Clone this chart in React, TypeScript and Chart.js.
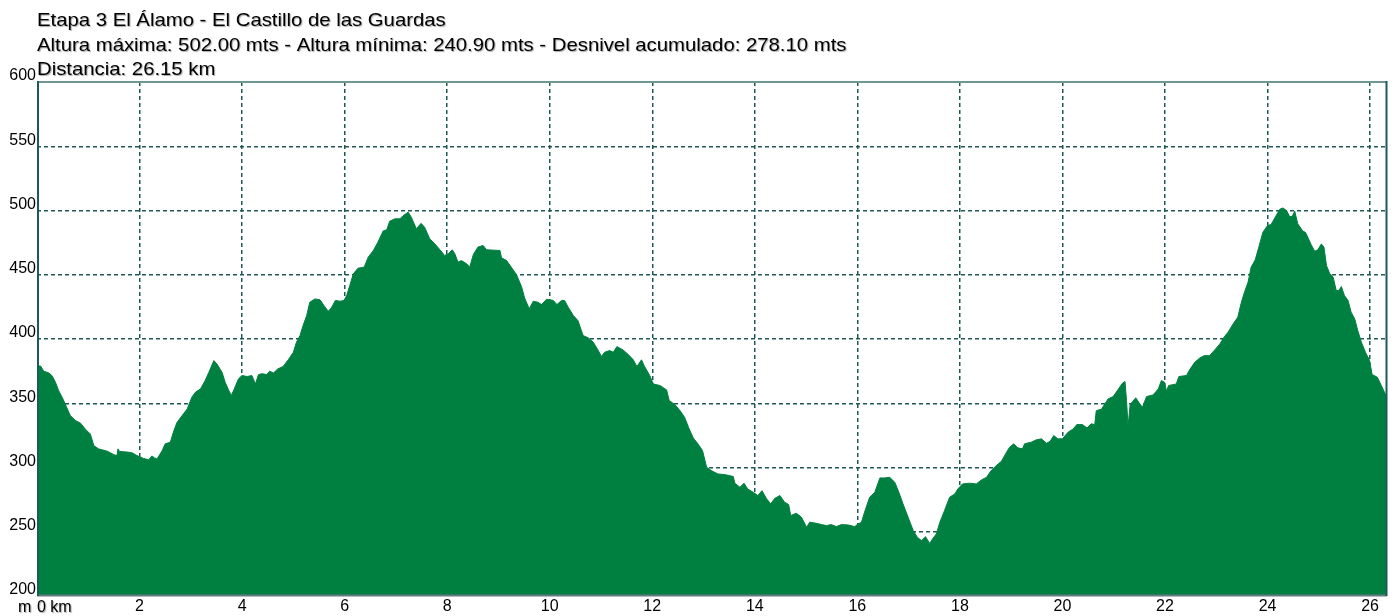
import { useEffect, useRef } from 'react';
import { Chart, registerables } from 'chart.js';

Chart.register(...registerables);

const titleLines = [
  'Etapa 3 El Álamo - El Castillo de las Guardas',
  'Altura máxima: 502.00 mts - Altura mínima: 240.90 mts - Desnivel acumulado: 278.10 mts',
  'Distancia: 26.15 km',
];

const yUnitLabel = 'm';
const xFirstLabel = '0 km';

const xTickValues = [0, 2, 4, 6, 8, 10, 12, 14, 16, 18, 20, 22, 24, 26];
const yTickValues = [200, 250, 300, 350, 400, 450, 500, 550, 600];

const X_MAX = 26.33;
const Y_MIN = 200;
const Y_MAX = 600;

const distanceKm = [
  0.0, 0.07, 0.13, 0.23, 0.29, 0.36, 0.42, 0.49, 0.55, 0.62, 0.65, 0.75, 0.85, 0.94, 1.04, 1.11, 1.2, 1.37, 1.5, 1.56,
  1.58, 1.61, 1.76, 1.85, 1.95, 2.08, 2.18, 2.24, 2.29, 2.34, 2.44, 2.5, 2.6, 2.67, 2.73, 2.83, 2.93, 3.02, 3.09, 3.19,
  3.28, 3.35, 3.45, 3.51, 3.61, 3.67, 3.74, 3.79, 3.84, 3.93, 4.0, 4.1, 4.19, 4.26, 4.32, 4.39,
  4.48, 4.54, 4.61, 4.7, 4.8, 4.9, 5.0, 5.06, 5.13, 5.19, 5.26, 5.32, 5.42, 5.52, 5.61, 5.68, 5.74, 5.82, 5.91, 5.99,
  6.04, 6.1, 6.17, 6.26, 6.38, 6.46, 6.56, 6.65, 6.75, 6.82, 6.88, 6.98, 7.08, 7.14, 7.24, 7.3, 7.4, 7.49, 7.56, 7.66,
  7.76, 7.86, 7.95, 8.02, 8.1, 8.15, 8.21, 8.28, 8.38, 8.44, 8.51, 8.6, 8.7, 8.77,
  9.03, 9.06, 9.16, 9.25, 9.35, 9.45, 9.51, 9.6, 9.68, 9.77, 9.84, 9.94, 10.07, 10.14, 10.23, 10.29, 10.36, 10.46,
  10.55, 10.65, 10.75, 10.85, 10.94, 11.01, 11.07, 11.17, 11.24, 11.31, 11.43, 11.53, 11.63, 11.7, 11.79, 11.85,
  11.95, 12.02, 12.15, 12.28, 12.33, 12.44, 12.54, 12.63, 12.72, 12.8, 12.89, 12.98, 13.06, 13.15,
  13.28, 13.41, 13.58, 13.61, 13.71, 13.79, 13.86, 13.97, 14.06, 14.14, 14.23, 14.31, 14.39, 14.49, 14.58, 14.66,
  14.7, 14.81, 14.91, 15.01, 15.07, 15.2, 15.3, 15.4, 15.49, 15.59, 15.69, 15.82, 15.95, 16.01, 16.08, 16.14, 16.24,
  16.34, 16.44, 16.53, 16.63, 16.73, 16.81, 16.89, 16.99, 17.09, 17.17, 17.25, 17.33, 17.41, 17.48, 17.54,
  17.61, 17.7, 17.8, 17.9, 17.96, 18.05, 18.19, 18.32, 18.42, 18.52, 18.61, 18.71, 18.81, 18.91, 18.97, 19.05, 19.13,
  19.22, 19.26, 19.39, 19.49, 19.59, 19.69, 19.76, 19.83, 19.91, 20.0, 20.11, 20.21, 20.28, 20.39, 20.48, 20.56,
  20.63, 20.66, 20.76, 20.89, 20.99, 21.08, 21.17, 21.22, 21.25, 21.28, 21.32, 21.43, 21.51, 21.56, 21.64, 21.77,
  21.87, 21.93,
  21.99, 22.03, 22.07, 22.22, 22.27, 22.42, 22.48, 22.58, 22.68, 22.77, 22.87, 22.97, 23.07, 23.16, 23.23, 23.33,
  23.42, 23.49, 23.55, 23.62, 23.68, 23.76, 23.83, 23.91, 24.0, 24.07, 24.15, 24.24, 24.3, 24.37, 24.43, 24.48, 24.53,
  24.59, 24.69, 24.74, 24.79, 24.85, 24.92, 24.98, 25.05, 25.1, 25.15, 25.21, 25.28, 25.34, 25.39, 25.44, 25.5, 25.57,
  25.63, 25.7, 25.76, 25.83, 25.91, 25.99, 26.04, 26.14, 26.22, 26.33,
];

const elevationM = [
  379, 379, 375, 373.6, 371.6, 366.4, 360, 354.7, 349.5, 343, 340.4, 336.5, 334.5, 330, 326, 317, 314.5, 312.7, 310, 309.3,
  314.5, 312.5, 312, 311.5, 309.3, 307, 306, 309, 307.5, 306.7, 313, 318.4, 319.7, 328.8, 335, 340.4, 345.6, 354.7, 358.6, 361.2,
  367.7, 374, 383.2, 380.6, 374, 366.4, 360, 356, 360.5, 369, 371.6, 370.8, 371.6, 365, 372.3, 373,
  372.3, 375, 373.5, 376.8, 378.6, 383.8, 389.7, 397.5, 402.7, 410.5, 418.3, 428.6, 431.2, 430.5, 425.3, 421.6, 424.2, 430, 429.4, 430,
  433.8, 441.6, 450.7, 455.1, 455.9, 463.7, 468.9, 475.4, 484, 485, 491.7, 493.5, 493.5, 496, 498.7, 494.8, 485.7, 490, 487, 478,
  474, 469.4, 465, 466.3, 469.4, 466.3, 459.8, 461, 458.5, 455.9, 465.7, 471.5, 472.8, 469.4,
  468.9, 463.2, 461, 455.9, 450.2, 440.8, 432, 423.5, 429.4, 428.6, 426.8, 431, 430, 426.8, 430, 430, 424.8, 418.3,
  414.4, 402.7, 400.9, 397.5, 391.5, 386.4, 389.7, 391, 389.7, 394.1, 391.5, 388, 383.8, 378.6, 383.8, 378.6,
  371.6, 365, 363.8, 360.4, 352.1, 349, 344.3, 339.1, 330, 323, 318.4, 313.2, 300.2, 297.6,
  295, 294.5, 293, 287.8, 284.6, 287.8, 283.3, 280.7, 278.2, 282, 275.6, 271.7, 276, 278.2, 273, 271.2,
  262.6, 264.4, 261.3, 253.5, 257.4, 256.6, 255.6, 254.8, 255.6, 254, 255.6, 255.3, 254, 256, 257.4, 265.2, 276.9,
  280.7, 291.9, 291.9, 292.4, 288.5, 280.7, 271.7, 261.3, 250.9, 245.7, 243.1, 246.2, 240.9, 245.2, 248.3,
  257.4, 266.5, 276.9, 279.4, 283.3, 287.2, 287.8, 287.2, 290.3, 292.4, 297.6, 301.5, 304.9, 311.9, 315.8, 318.4, 315.3,
  314.5, 318.4, 319.7, 321.5, 322.3, 318.9, 320.4, 324.9, 322.3, 322.3, 327.5, 330, 333.4, 333.4, 330.8, 334,
  333.4, 344.3, 345.3, 353.4, 355.2, 360.4, 365.6, 366.9, 352.1, 331.9, 349, 354.2, 349.5, 346.9, 355.2, 356.5,
  361.2, 367.7,
  366.4, 359.4, 363.8, 365, 370.8, 371.6, 376, 381.9, 385.3, 387.1, 387, 391.5, 396.2, 401.9, 405.3, 411.8,
  417, 428.6, 436.4, 444.2, 455.9, 461.6, 471.5, 483.1, 488.3, 489.1, 494.8, 501, 502, 500, 495.3, 495.3, 499.5,
  489.6, 483.9, 483, 478.7, 473.5, 468.3, 469.4, 474, 471.5, 457.2, 451.2, 448.1, 437.7, 437.7, 440.8, 433.8, 430,
  420.9, 415.7, 406.6, 397.5, 389.7, 383.2, 372.3, 370.3, 363.8, 354.2,
];

const FILL_GREEN = '#008040';
const GRID_COLOR = '#1f5855';
const GRID_DASH = [4, 3];
const TEXT_FONT = '"Liberation Sans", Arial, sans-serif';

const framePlugin = {
  id: 'profileFrame',
  afterDraw(chart: any) {
    const { ctx, chartArea } = chart;
    const { left, right, top, bottom } = chartArea;
    ctx.save();
    ctx.setLineDash([]);
    // top border
    ctx.strokeStyle = '#6f9692';
    ctx.lineWidth = 2;
    ctx.beginPath();
    ctx.moveTo(left, top);
    ctx.lineTo(right, top);
    ctx.stroke();
    // bottom border
    ctx.strokeStyle = '#667a84';
    ctx.beginPath();
    ctx.moveTo(left, bottom - 0.5);
    ctx.lineTo(right, bottom - 0.5);
    ctx.stroke();
    // left / right borders
    ctx.strokeStyle = '#1d5a5a';
    ctx.beginPath();
    ctx.moveTo(left + 1, top - 1);
    ctx.lineTo(left + 1, bottom);
    ctx.moveTo(right - 0.5, top - 1);
    ctx.lineTo(right - 0.5, bottom);
    ctx.stroke();

    // title lines
    ctx.fillStyle = '#000';
    ctx.textAlign = 'left';
    ctx.textBaseline = 'alphabetic';
    ctx.font = `18.5px ${TEXT_FONT}`;
    ctx.shadowColor = 'rgba(0,0,0,0.35)';
    ctx.shadowOffsetX = 1;
    ctx.shadowOffsetY = 1;
    ctx.shadowBlur = 1;
    const baselines = [26, 50.5, 75];
    titleLines.forEach((line, i) => {
      ctx.save();
      ctx.translate(left, baselines[i]);
      ctx.scale(1.098, 1);
      ctx.fillText(line, 0, 0);
      ctx.restore();
    });

    // unit labels at the bottom-left
    ctx.font = `16px ${TEXT_FONT}`;
    ctx.fillText(yUnitLabel, 18, 612);
    ctx.fillText(xFirstLabel, left, 612);
    ctx.restore();
  },
};

export default function App() {
  const canvasRef = useRef<HTMLCanvasElement | null>(null);

  useEffect(() => {
    const canvas = canvasRef.current;
    if (!canvas) return;
    const points = distanceKm.map((x, i) => ({ x, y: elevationM[i] }));

    const chart = new Chart(canvas, {
      type: 'line',
      data: {
        datasets: [
          {
            data: points,
            borderColor: FILL_GREEN,
            backgroundColor: FILL_GREEN,
            borderWidth: 1,
            pointRadius: 0,
            fill: 'start',
            tension: 0,
          },
        ],
      },
      options: {
        responsive: false,
        animation: false,
        layout: { padding: { top: 82, right: 9, left: 0, bottom: 0 } },
        plugins: {
          legend: { display: false },
          title: { display: false },
          tooltip: { enabled: false },
        },
        scales: {
          x: {
            type: 'linear',
            min: 0,
            max: X_MAX,
            z: 1,
            afterBuildTicks: (scale: any) => {
              scale.ticks = xTickValues.map((v) => ({ value: v }));
            },
            afterFit: (scale: any) => {
              scale.height = 20;
            },
            ticks: {
              autoSkip: false,
              maxRotation: 0,
              padding: 1,
              color: '#000',
              font: { family: TEXT_FONT, size: 16 },
              callback: (v: any) => (v === 0 ? '' : String(v)),
            },
            grid: {
              drawTicks: false,
              color: (c: any) => (c.tick && c.tick.value === 0 ? 'rgba(0,0,0,0)' : GRID_COLOR),
              lineWidth: 1.5,
              borderDash: GRID_DASH,
            } as any,
            border: { display: false, dash: GRID_DASH },
          },
          y: {
            type: 'linear',
            min: Y_MIN,
            max: Y_MAX,
            z: 1,
            afterBuildTicks: (scale: any) => {
              scale.ticks = yTickValues.map((v) => ({ value: v }));
            },
            afterFit: (scale: any) => {
              scale.width = 37;
            },
            ticks: {
              autoSkip: false,
              padding: 1,
              labelOffset: -6,
              color: '#000',
              font: { family: TEXT_FONT, size: 16 },
              callback: (v: any) => String(v),
            },
            grid: {
              drawTicks: false,
              color: (c: any) =>
                c.tick && (c.tick.value === Y_MIN || c.tick.value === Y_MAX) ? 'rgba(0,0,0,0)' : GRID_COLOR,
              lineWidth: 1.5,
              borderDash: GRID_DASH,
            } as any,
            border: { display: false, dash: GRID_DASH },
          },
        },
      },
      plugins: [framePlugin],
    });

    return () => chart.destroy();
  }, []);

  return (
    <div style={{ position: 'absolute', left: 0, top: 0, width: 1396, height: 616, background: '#fff' }}>
      <canvas ref={canvasRef} width={1396} height={616} style={{ display: 'block' }} />
    </div>
  );
}
